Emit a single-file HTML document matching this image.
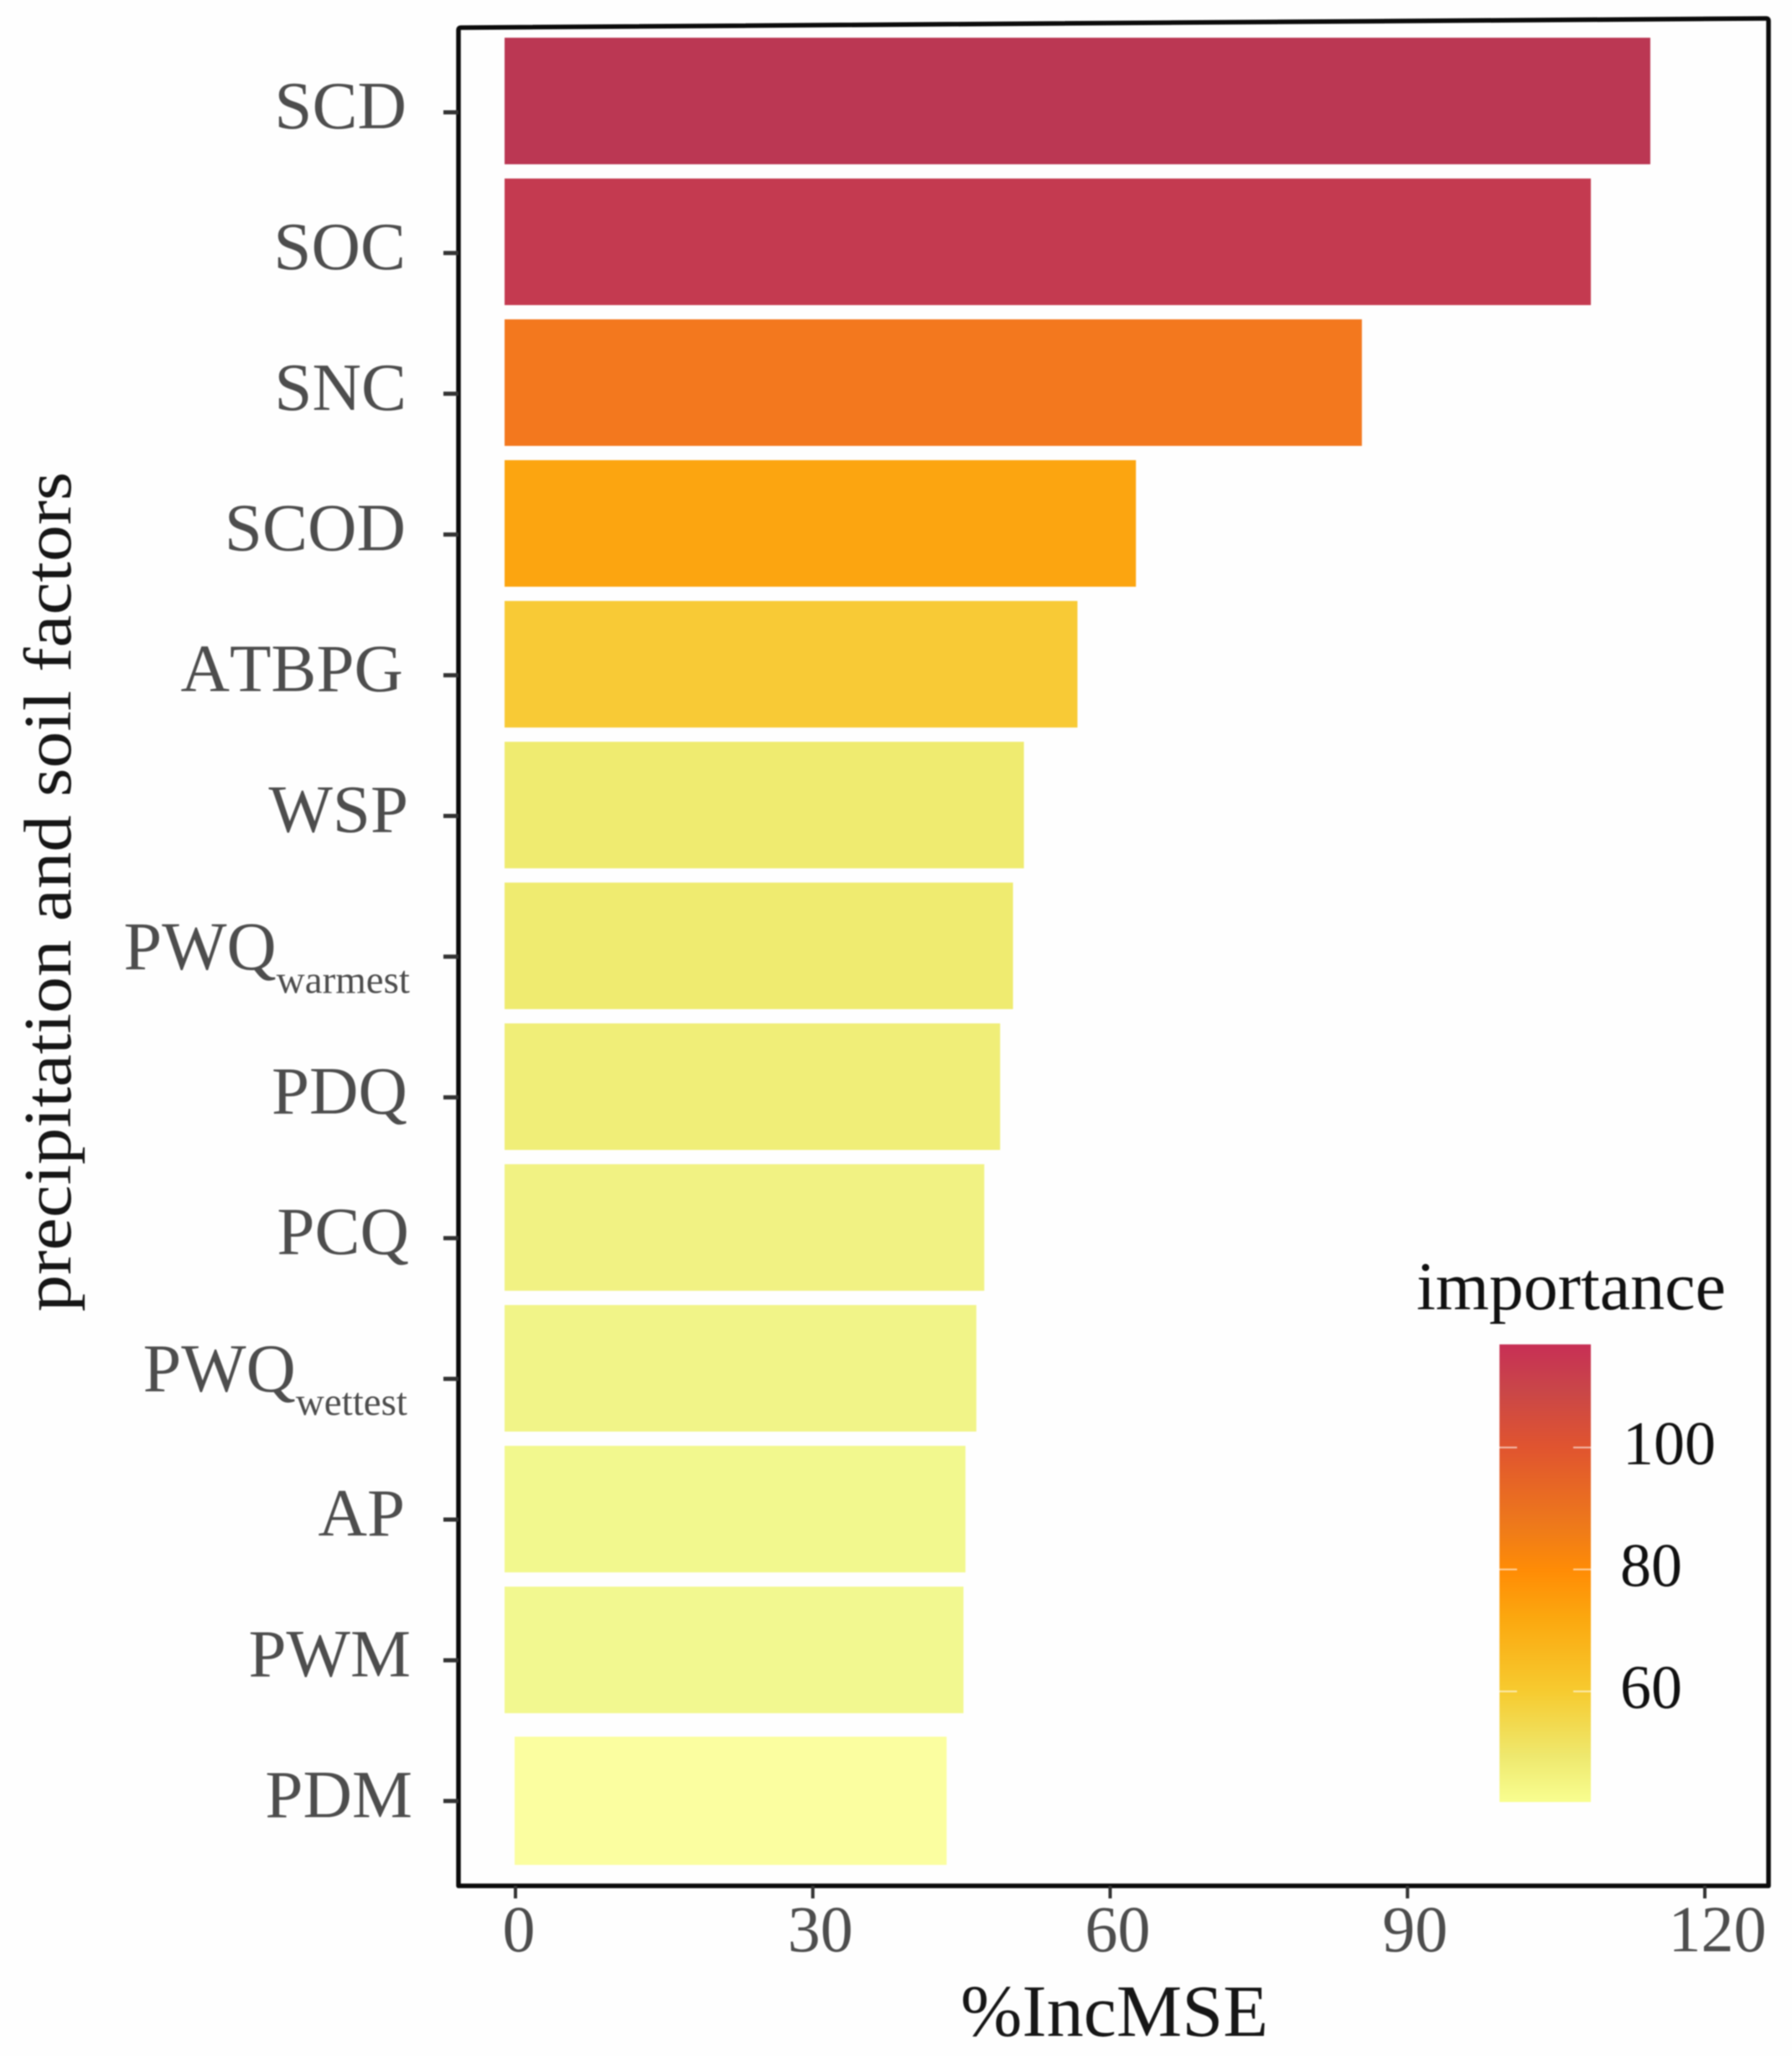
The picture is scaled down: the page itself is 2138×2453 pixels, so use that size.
<!DOCTYPE html>
<html lang="en">
<head>
<meta charset="utf-8">
<title>%IncMSE importance of precipitation and soil factors</title>
<style>
  html, body { margin: 0; padding: 0; background: #fefefe; }
  svg { display: block; filter: blur(0.7px); }
  text { font-family: "Liberation Serif", "Times New Roman", serif; font-kerning: none; }
</style>
</head>
<body>
<svg id="chart" xmlns="http://www.w3.org/2000/svg" width="2138" height="2453" viewBox="0 0 2138 2453">
  <defs>
    <linearGradient id="legend-gradient" x1="0" y1="0" x2="0" y2="1"></linearGradient>
  </defs>
  <rect x="0" y="0" width="2138" height="2453" fill="#fefefe"/>
  <g id="bars"></g>
  <path d="M547 2250 L547 36 Q547 33 550 33 L2107 22 Q2110 22 2110 25 L2110 2250 Z" fill="none" stroke="#0b0b0b" stroke-width="5.5" stroke-linejoin="round"/>
  <g id="y-axis"></g>
  <g id="x-axis"></g>
  <text transform="translate(84 1565) rotate(-90)" font-size="81" fill="#161616" textLength="1002" lengthAdjust="spacingAndGlyphs">precipitation and soil factors</text>
  <text x="1146" y="2429" font-size="88" fill="#161616" textLength="367" lengthAdjust="spacingAndGlyphs">%IncMSE</text>
  <g id="legend">
    <text x="1690" y="1562" font-size="82" fill="#111" textLength="369" lengthAdjust="spacingAndGlyphs">importance</text>
    <rect x="1789" y="1604" width="109" height="546" fill="url(#legend-gradient)"/>
  </g>
</svg>
<script>
const categories = ["SCD", "SOC", "SNC", "SCOD", "ATBPG", "WSP", "PWQ", "PDQ", "PCQ", "PWQ", "AP", "PWM", "PDM"];
const categorySubscripts = ["", "", "", "", "", "", "warmest", "", "", "wettest", "", "", ""];
const incMSE = [114.5, 108.5, 85.4, 62.6, 56.7, 51.3, 50.2, 48.9, 47.3, 46.5, 45.4, 45.2, 43.5];
const xTicks = [0, 30, 60, 90, 120];
const legendTicks = [100, 80, 60];

const SVG_NS = "http://www.w3.org/2000/svg";
const barsGroup = document.getElementById("bars");
const yAxisGroup = document.getElementById("y-axis");
const xAxisGroup = document.getElementById("x-axis");
const legendGroup = document.getElementById("legend");
const gradient = document.getElementById("legend-gradient");

function make(tag, attrs) {
  const el = document.createElementNS(SVG_NS, tag);
  Object.keys(attrs).forEach(function (k) { el.setAttribute(k, attrs[k]); });
  return el;
}

function xScale(v) { return 615 + v * 11.825; }
function bandTop(i) { return 45 + i * 168; }
function tickY(i) { return 134 + i * 167.9; }
function legendY(v) { return 1727 + (100 - v) * 7.275; }

function hexToRgb(h) {
  return [parseInt(h.slice(1, 3), 16), parseInt(h.slice(3, 5), 16), parseInt(h.slice(5, 7), 16)];
}

function barColor(v) {
  const ramp = [
    [43.5, "#fbfea0"], [45.3, "#f2f88f"], [47, "#f1f385"], [50, "#efeb70"],
    [51.5, "#efeb70"], [56.7, "#f8ca36"], [62.4, "#fca510"], [85.4, "#f3781e"],
    [108.5, "#c43a50"], [114.5, "#bb3753"]
  ];
  if (v <= ramp[0][0]) return ramp[0][1];
  for (let k = 1; k < ramp.length; k++) {
    if (v <= ramp[k][0]) {
      const t = (v - ramp[k - 1][0]) / (ramp[k][0] - ramp[k - 1][0]);
      const a = hexToRgb(ramp[k - 1][1]);
      const b = hexToRgb(ramp[k][1]);
      return "rgb(" + a.map(function (c, n) { return Math.round(c + (b[n] - c) * t); }).join(",") + ")";
    }
  }
  return ramp[ramp.length - 1][1];
}

function drawBars() {
  incMSE.forEach(function (v, i) {
    const isLast = i === incMSE.length - 1;
    const left = isLast ? xScale(0) - 1 : xScale(0) - 13;
    const top = isLast ? bandTop(i) + 11 : bandTop(i);
    const rect = make("rect", {
      x: left, y: top, width: xScale(v) - left, height: isLast ? 153 : 151, fill: barColor(v)
    });
    
    
    barsGroup.appendChild(rect);
  });
}

function drawYAxis() {
  const rightEdge = { SCD: 485, SOC: 484, SNC: 485, SCOD: 484, ATBPG: 481, WSP: 487, PDQ: 486, PCQ: 488, AP: 483, PWM: 490, PDM: 492 };
  categories.forEach(function (name, i) {
    const y = tickY(i);
    const tick = make("line", { x1: 529, x2: 547, y1: y, y2: y, stroke: "#333", "stroke-width": 5 });
    
    
    yAxisGroup.appendChild(tick);

    const sub = categorySubscripts[i];
    const label = make("text", {
      x: sub ? (sub === "warmest" ? 489 : 486) : rightEdge[name],
      y: y + (sub ? 15 : 19),
      "text-anchor": "end",
      "font-size": sub ? 82 : 81,
      fill: "#4d4d4d"
    });
    
    
    const main = make("tspan", {});
    main.textContent = name;
    label.appendChild(main);
    if (sub) {
      const small = make("tspan", { dy: 28, "font-size": 47 });
      small.textContent = sub;
      label.appendChild(small);
    }
    yAxisGroup.appendChild(label);
  });
}

function drawXAxis() {
  const labelShift = { 0: 4, 30: 9, 60: 9, 90: 9, 120: 15 };
  xTicks.forEach(function (v) {
    const x = xScale(v);
    const tick = make("line", { x1: x, x2: x, y1: 2250, y2: 2265, stroke: "#333", "stroke-width": 4 });
    
    
    xAxisGroup.appendChild(tick);

    const label = make("text", {
      x: x + labelShift[v],
      y: 2328,
      "text-anchor": "middle",
      "font-size": 78,
      fill: "#4d4d4d"
    });
    
    
    label.textContent = String(v);
    xAxisGroup.appendChild(label);
  });
}

function drawLegend() {
  const stops = [
    [0, "#c72f55"], [0.1, "#c94648"], [0.225, "#e0542f"],
    [0.4, "#ee7a1a"], [0.495, "#ff8c05"], [0.6, "#fba80f"],
    [0.76, "#f6cb30"], [0.9, "#eee86e"], [1, "#f8fe90"]
  ];
  stops.forEach(function (s) {
    const stop = make("stop", { offset: s[0], "stop-color": s[1] });
    gradient.appendChild(stop);
  });
  legendTicks.forEach(function (v) {
    const y = legendY(v);
    const leftTick = make("line", { x1: 1789, x2: 1810, y1: y, y2: y, stroke: "#fff", "stroke-opacity": 0.6, "stroke-width": 2 });
    
    
    legendGroup.appendChild(leftTick);

    const rightTick = make("line", { x1: 1877, x2: 1898, y1: y, y2: y, stroke: "#fff", "stroke-opacity": 0.6, "stroke-width": 2 });
    
    
    legendGroup.appendChild(rightTick);

    const label = make("text", { x: v === 100 ? 1936 : 1933, y: y + 20, "font-size": 74, fill: "#111" });
    
    
    label.textContent = String(v);
    legendGroup.appendChild(label);
  });
}

drawBars();
drawYAxis();
drawXAxis();
drawLegend();
</script>
</body>
</html>
